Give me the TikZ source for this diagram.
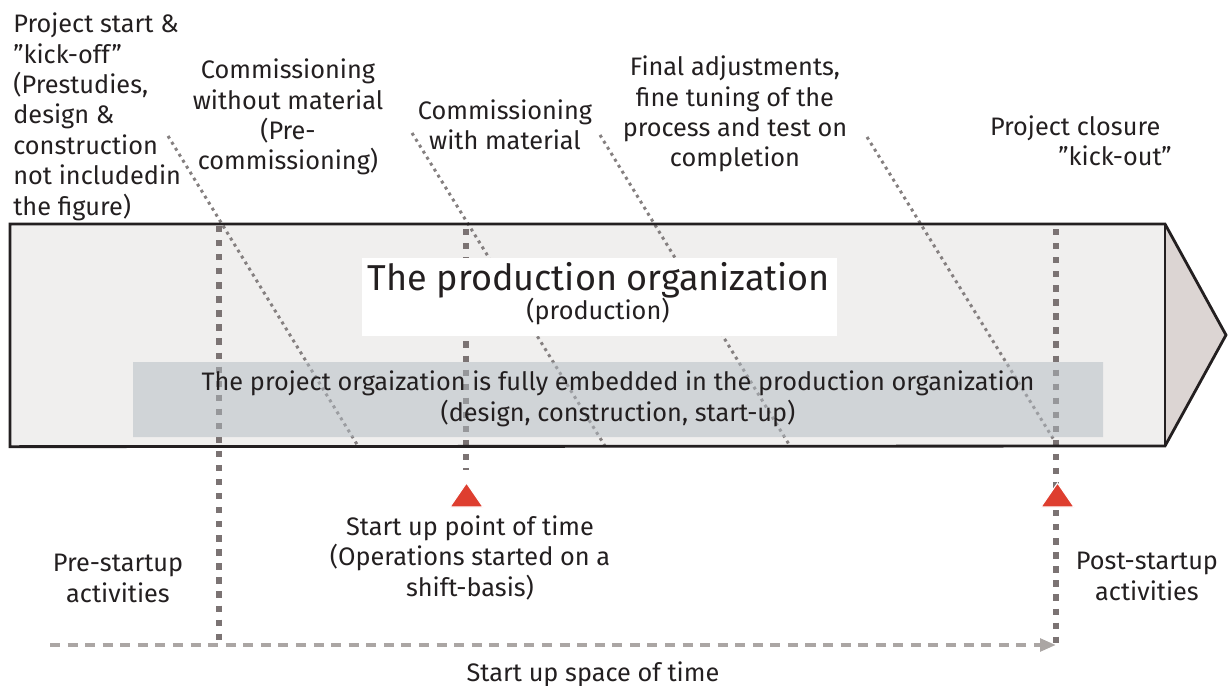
\documentclass[tikz,border=0pt]{standalone}
\usepackage{fontspec}
\setmainfont{Fira Sans}
\usetikzlibrary{arrows.meta}
\definecolor{bodyfill}{HTML}{F0EFEE}
\definecolor{tipfill}{HTML}{DCD5D3}
\definecolor{edgecol}{HTML}{231F20}
\definecolor{vdot}{HTML}{7B7373}
\definecolor{ddot}{HTML}{858080}
\definecolor{hdash}{HTML}{ABA6A4}
\definecolor{grayboxcol}{HTML}{B2BBC2}
\definecolor{markcol}{HTML}{DE3E2F}
\definecolor{txtcol}{HTML}{231F20}
\begin{document}
\begin{tikzpicture}[x=0.02cm,y=-0.02cm,
  lbl/.style={font=\fontsize{14.4}{17.3}\selectfont, text=txtcol, inner sep=0pt, align=center},
  vline/.style={vdot, line width=3.6pt, dash pattern=on 3.6pt off 4.4pt},
  dline/.style={ddot, line width=1.7pt, dash pattern=on 1.7pt off 2.3pt},
  hline/.style={hdash, line width=2.3pt, dash pattern=on 5.7pt off 4.3pt},
  marker/.style={fill=markcol, draw=white, line width=0.6pt}]
\useasboundingbox (0,0) rectangle (1228,686);
% body arrow
\node[fill=bodyfill, inner sep=0pt, minimum width=23.1cm, minimum height=4.44cm, anchor=north west] (body) at (10,224) {};
\fill[tipfill] (1165,224) -- (1226,335) -- (1165,446) -- cycle;
% coordinates
\coordinate (v1t) at (219,226);
\coordinate (v1b) at (219,645);
\coordinate (v2t) at (466,229);
\coordinate (v2b) at (466,470);
\coordinate (v3t) at (1056,229);
\coordinate (v3b) at (1056,645);
\coordinate (d1a) at (168,136); \coordinate (d1b) at (358,446);
\coordinate (d2a) at (412,133); \coordinate (d2b) at (605,446);
\coordinate (d3a) at (600,135); \coordinate (d3b) at (790,446);
\coordinate (d4a) at (867,137); \coordinate (d4b) at (1054,440);
\coordinate (hstart) at (50,645);
% lines
\draw[dline] (d1a) -- (d1b);
\draw[dline] (d2a) -- (d2b);
\draw[dline] (d3a) -- (d3b);
\draw[dline] (d4a) -- (d4b);
\draw[vline] (v1t) -- (v1b);
\draw[vline] (v2t) -- (v2b);
\draw[vline] (v3t) -- (v3b);
% white title box
\node[fill=white, inner sep=0pt, minimum width=9.5cm, minimum height=1.56cm, anchor=north west] (titlebox) at (362,258) {};
\node[font=\fontsize{20.5}{24}\selectfont, text=txtcol, inner sep=0pt, anchor=base] (title) at (599,290) {The production organization};
\node[lbl, anchor=base] (titlesub) at (598,319) {(production)};
% grey embedded box (translucent)
\begin{scope}[opacity=0.5, transparency group]
\fill[grayboxcol] (133,362) rectangle (1103,437);
\end{scope}
\coordinate (projbox) at (618,399.5);
\node[lbl, anchor=base] (projtxt) at (618,421) {The project orgaization is fully embedded in the production organization\\(design, construction, start-up)};
% outline
\draw[edgecol, line width=1.6pt, line join=miter] (body.north west) -- (1165,224) -- (1226,335) -- (1165,446) -- (body.south west) -- cycle;
\draw[edgecol, line width=1.6pt] (1165,224) -- (1165,446);
% horizontal dashed arrow
\draw[hline, -{Triangle[length=9pt, width=7pt, sep=0pt]}] (hstart) -- (v3b);
% markers
\fill[marker] (450,507) -- (483,507) -- (466.5,483) -- cycle;
\fill[marker] (1041,507) -- (1074,507) -- (1057.5,483) -- cycle;
% labels (base = baseline of last line)
\node[lbl, align=left, anchor=base west] (kickoff) at (13,215) {Project start \&\\”kick-off”\\(Prestudies,\\design \&\\construction\\not includedin\\the figure)};
\node[lbl, anchor=base] (precomm) at (288,170) {Commissioning\\without material\\(Pre-\\commissioning)};
\node[lbl, anchor=base] (commmat) at (505,150) {Commissioning\\with material};
\node[lbl, anchor=base] (finaladj) at (735,167) {Final adjustments,\\fine tuning of the\\process and test on\\completion};
\node[lbl, align=right, anchor=base east] (closure) at (1172,166) {Project closure\hspace*{0.45em}\\”kick-out”};
\node[lbl, anchor=base] (startpt) at (470,596) {Start up point of time\\(Operations started on a\\shift-basis)};
\node[lbl, anchor=base] (pre) at (118,602) {Pre-startup\\activities};
\node[lbl, anchor=base] (post) at (1147,600) {Post-startup\\activities};
\node[lbl, anchor=base] (space) at (593,681) {Start up space of time};
\end{tikzpicture}
\end{document}
